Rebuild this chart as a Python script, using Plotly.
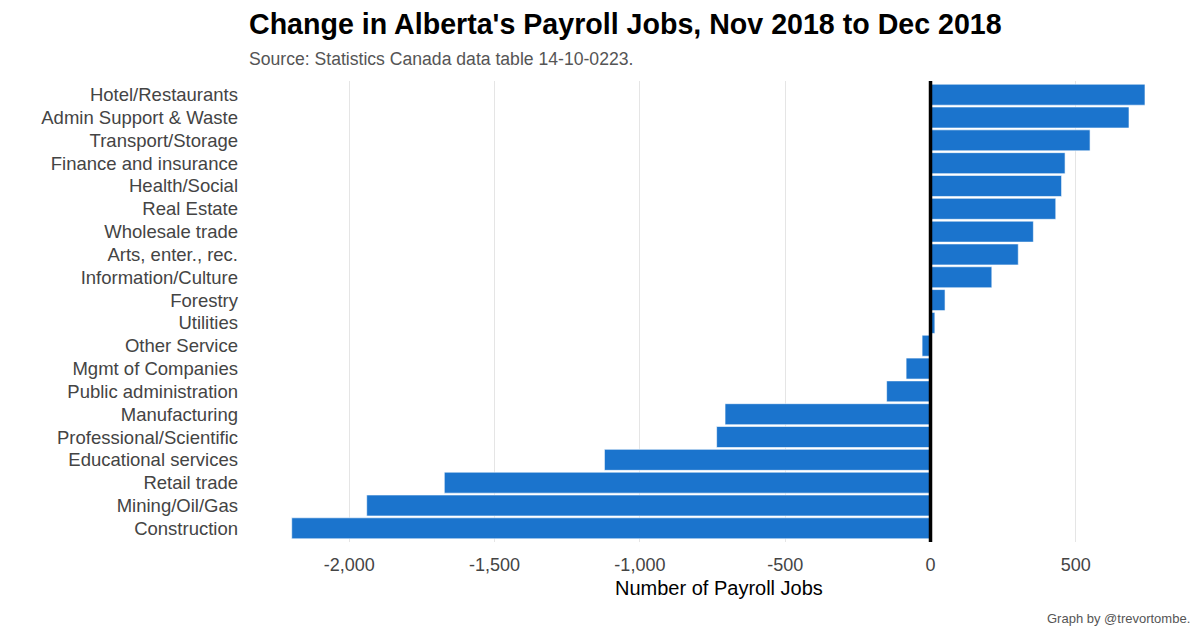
import plotly.graph_objects as go

categories = [
    "Hotel/Restaurants", "Admin Support & Waste", "Transport/Storage",
    "Finance and insurance", "Health/Social", "Real Estate", "Wholesale trade",
    "Arts, enter., rec.", "Information/Culture", "Forestry", "Utilities",
    "Other Service", "Mgmt of Companies", "Public administration",
    "Manufacturing", "Professional/Scientific", "Educational services",
    "Retail trade", "Mining/Oil/Gas", "Construction",
]
changes = [738, 683, 549, 463, 451, 431, 354, 302, 211, 50, 15,
           -29, -84, -151, -707, -736, -1122, -1673, -1940, -2198]
tick_vals = [-2000, -1500, -1000, -500, 0, 500]
tick_text = ["-2,000", "-1,500", "-1,000", "-500", "0", "500"]

FONT = "Liberation Sans, Arial, sans-serif"

fig = go.Figure()
fig.add_trace(go.Bar(
    y=categories, x=changes, orientation="h",
    marker=dict(color="#1B74CD", line=dict(color="white", width=0.6)),
    width=0.92,
))

fig.add_shape(type="line", xref="x", yref="paper", x0=0, x1=0, y0=0, y1=1,
              line=dict(color="black", width=3.5))

fig.update_layout(
    width=1200, height=640,
    margin=dict(l=249, r=12, t=81, b=98, autoexpand=False),
    plot_bgcolor="white", paper_bgcolor="white",
    showlegend=False,
    font=dict(family=FONT),
    xaxis=dict(
        range=[-2345, 886], tickvals=tick_vals, ticktext=tick_text,
        showgrid=True, gridcolor="#E5E5E5", gridwidth=1,
        zeroline=False, showline=False, ticks="",
        tickfont=dict(size=18, color="#444444"), ticklabelstandoff=10,
        automargin=False,
    ),
    yaxis=dict(
        categoryorder="array", categoryarray=categories[::-1],
        showgrid=False, zeroline=False, showline=False, ticks="",
        tickfont=dict(size=18.5, color="#444444"), ticklabelstandoff=10,
        range=[-0.6, len(categories) - 0.4], automargin=False,
    ),
    annotations=[
        dict(text="<b>Change in Alberta's Payroll Jobs, Nov 2018 to Dec 2018</b>",
             xref="paper", yref="paper", x=0, y=1, xanchor="left", yanchor="middle",
             yshift=57, xshift=-2, showarrow=False,
             font=dict(size=28.6, color="black", family=FONT)),
        dict(text="Source: Statistics Canada data table 14-10-0223.",
             xref="paper", yref="paper", x=0, y=1, xanchor="left", yanchor="middle",
             yshift=22, xshift=-2, showarrow=False,
             font=dict(size=17.6, color="#555555", family=FONT)),
        dict(text="Number of Payroll Jobs",
             xref="paper", yref="paper", x=0.5, y=0, xanchor="center", yanchor="middle",
             yshift=-46, showarrow=False,
             font=dict(size=20, color="black", family=FONT)),
        dict(text="Graph by @trevortombe.",
             xref="paper", yref="paper", x=1, y=0, xanchor="right", yanchor="middle",
             yshift=-76, xshift=4, showarrow=False,
             font=dict(size=13, color="#555555", family=FONT)),
    ],
)

fig.write_html("out.html", config={"displayModeBar": False},
               post_script="document.body.style.margin='0px';")
